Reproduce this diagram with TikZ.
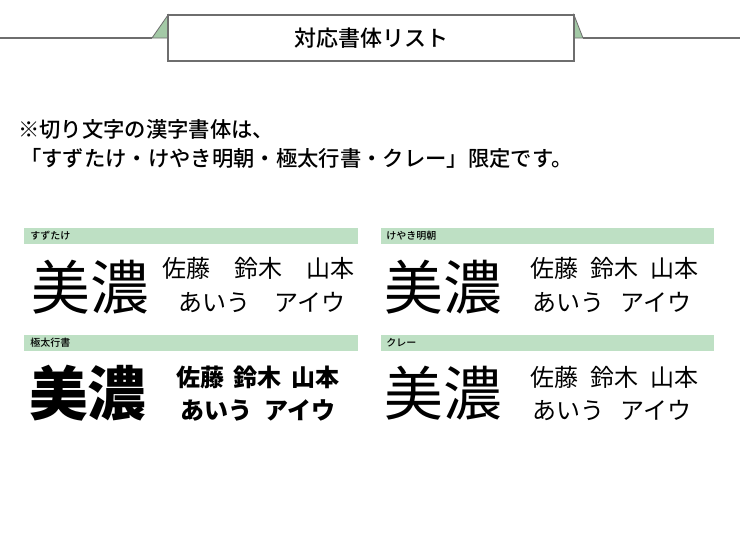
\documentclass[tikz,border=0pt]{standalone}
\usepackage{fontspec}
\newfontfamily\cjk{Noto Sans CJK JP}
\newfontfamily\cjkm{Noto Sans CJK JP Medium}
\newfontfamily\cjkb{Noto Sans CJK JP Black}
\definecolor{bar}{HTML}{BEE0C4}
\definecolor{tri}{HTML}{A3C9A6}
\definecolor{ln}{HTML}{6E6E6E}
\begin{document}
\begin{tikzpicture}[x=0.75pt,y=-0.75pt,
  big/.style={font=\cjk\fontsize{44}{46}\selectfont,inner sep=0pt},
  nm/.style={font=\cjk\fontsize{18}{20}\selectfont,inner sep=0pt},
  lab/.style={font=\cjkm\fontsize{7.5}{8}\selectfont,anchor=west,inner sep=0pt},
  barst/.style={fill=bar,draw=none}]
\useasboundingbox (0,0) rectangle (740,540);
\fill[white] (0,0) rectangle (740,540);
\draw[ln,line width=1pt] (0,38) -- (152,38) (583,38) -- (740,38);
\filldraw[fill=tri,draw=ln,line width=0.6pt] (152,38) -- (168,15) -- (168,38) -- cycle;
\filldraw[fill=tri,draw=ln,line width=0.6pt] (583,38) -- (574,15) -- (574,38) -- cycle;
\node[draw=ln,fill=white,line width=0.8pt,minimum width=406*0.75pt,minimum height=46*0.75pt,inner sep=0pt,font=\cjkm\fontsize{16.5}{18}\selectfont] (title) at (371,38) {対応書体リスト};
\node[anchor=west,font=\cjkm\fontsize{16}{18}\selectfont,inner sep=0pt] (n1) at (18,129) {※切り文字の漢字書体は、};
\node[anchor=west,font=\cjkm\fontsize{16}{18}\selectfont,inner sep=0pt] (n2) at (20,158) {「すずたけ・けやき明朝・極太行書・クレー」限定です。};
% bars
\fill[barst] (24,228) rectangle (358,244);
\fill[barst] (381,228) rectangle (714,244);
\fill[barst] (24,335) rectangle (358,351);
\fill[barst] (381,335) rectangle (714,351);
\node[lab] (l1) at (30,236) {すずたけ};
\node[lab] (l2) at (386,236) {けやき明朝};
\node[lab] (l3) at (30,343) {極太行書};
\node[lab] (l4) at (386,343) {クレー};
% panel 1
\node[big] (b1) at (90,287) {美濃};
\node[nm] (a1) at (258,268) {佐藤\hspace{1em}鈴木\hspace{1em}山本};
\node[nm] (k1) at (262,302) {あいう\hspace{1em}アイウ};
% panel 2
\node[big] (b2) at (443,287) {美濃};
\node[nm] (a2) at (614,268) {佐藤\hspace{0.5em}鈴木\hspace{0.5em}山本};
\node[nm] (k2) at (612,302) {あいう\hspace{0.7em}アイウ};
% panel 3
\node[big,font=\cjkb\fontsize{44}{46}\selectfont] (b3) at (88,393) {美濃};
\node[nm,font=\cjkb\fontsize{18}{20}\selectfont] (a3) at (258,377) {佐藤\hspace{0.4em}鈴木\hspace{0.4em}山本};
\node[nm,font=\cjkb\fontsize{18}{20}\selectfont] (k3) at (258,410) {あいう\hspace{0.5em}アイウ};
% panel 4
\node[big] (b4) at (443,393) {美濃};
\node[nm] (a4) at (614,377) {佐藤\hspace{0.5em}鈴木\hspace{0.5em}山本};
\node[nm] (k4) at (612,410) {あいう\hspace{0.7em}アイウ};
\end{tikzpicture}
\end{document}
